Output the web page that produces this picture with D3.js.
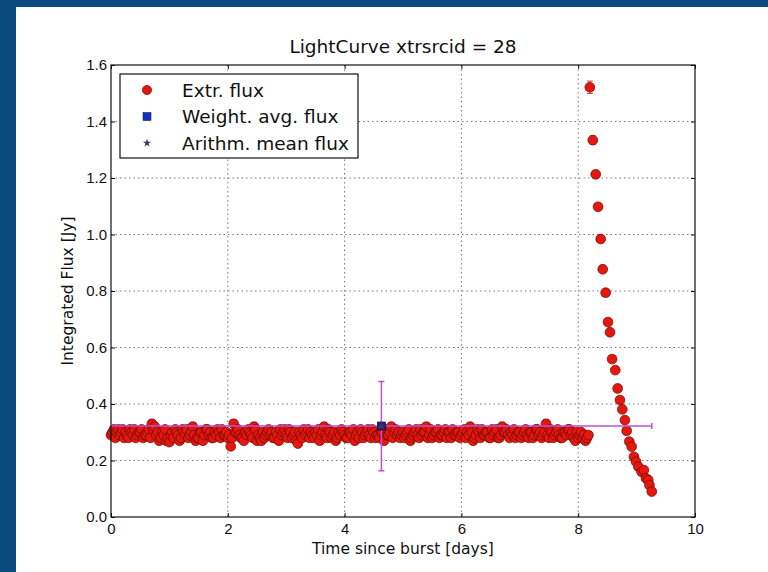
<!DOCTYPE html>
<html>
<head>
<meta charset="utf-8">
<script src="https://cdn.jsdelivr.net/npm/d3@7"></script>
<style>
  body { margin: 0; background: #fff; }
  svg { display: block; font-family: "DejaVu Sans", sans-serif; }
</style>
</head>
<body>
<div class="graph"></div>
<script>
// quiescent part of the light curve (days since burst, flux in Jy, 1-sigma error)
const days = [
  0.00, 0.05, 0.10, 0.15, 0.20, 0.25, 0.30, 0.35, 0.40, 0.45, 0.50, 0.55, 0.60, 0.65, 0.70, 0.75, 0.80, 0.85, 0.90, 0.95,
  1.00, 1.05, 1.10, 1.15, 1.20, 1.25, 1.30, 1.35, 1.40, 1.45, 1.50, 1.55, 1.60, 1.65, 1.70, 1.75, 1.80, 1.85, 1.90, 1.95,
  2.00, 2.05, 2.10, 2.15, 2.20, 2.25, 2.30, 2.35, 2.40, 2.45, 2.50, 2.55, 2.60, 2.65, 2.70, 2.75, 2.80, 2.85, 2.90, 2.95,
  3.00, 3.05, 3.10, 3.15, 3.20, 3.25, 3.30, 3.35, 3.40, 3.45, 3.50, 3.55, 3.60, 3.65, 3.70, 3.75, 3.80, 3.85, 3.90, 3.95,
  4.00, 4.05, 4.10, 4.15, 4.20, 4.25, 4.30, 4.35, 4.40, 4.45, 4.50, 4.55, 4.60, 4.65, 4.70, 4.75, 4.80, 4.85, 4.90, 4.95,
  5.00, 5.05, 5.10, 5.15, 5.20, 5.25, 5.30, 5.35, 5.40, 5.45, 5.50, 5.55, 5.60, 5.65, 5.70, 5.75, 5.80, 5.85, 5.90, 5.95,
  6.00, 6.05, 6.10, 6.15, 6.20, 6.25, 6.30, 6.35, 6.40, 6.45, 6.50, 6.55, 6.60, 6.65, 6.70, 6.75, 6.80, 6.85, 6.90, 6.95,
  7.00, 7.05, 7.10, 7.15, 7.20, 7.25, 7.30, 7.35, 7.40, 7.45, 7.50, 7.55, 7.60, 7.65, 7.70, 7.75, 7.80, 7.85, 7.90, 7.95,
  8.00, 8.05, 8.10, 8.15
];
const flux = [
  0.29, 0.31, 0.30, 0.29, 0.31, 0.30, 0.28, 0.30, 0.31, 0.29, 0.30, 0.28, 0.29, 0.31, 0.33, 0.32, 0.30, 0.28, 0.29, 0.27,
  0.265, 0.30, 0.31, 0.29, 0.28, 0.30, 0.31, 0.29, 0.32, 0.27, 0.28, 0.30, 0.29, 0.31, 0.30, 0.28, 0.29, 0.30, 0.31, 0.29,
  0.28, 0.25, 0.33, 0.30, 0.29, 0.28, 0.30, 0.31, 0.29, 0.32, 0.27, 0.28, 0.30, 0.29, 0.31, 0.30, 0.28, 0.29, 0.31, 0.30,
  0.29, 0.31, 0.28, 0.30, 0.26, 0.29, 0.31, 0.30, 0.28, 0.29, 0.30, 0.31, 0.29, 0.32, 0.28, 0.30, 0.29, 0.27, 0.30, 0.31,
  0.29, 0.28, 0.30, 0.31, 0.29, 0.28, 0.30, 0.29, 0.31, 0.28, 0.30, 0.29, 0.28, 0.30, 0.31, 0.29, 0.32, 0.30, 0.29, 0.28,
  0.30, 0.29, 0.31, 0.28, 0.30, 0.29, 0.31, 0.30, 0.32, 0.29, 0.28, 0.30, 0.31, 0.29, 0.30, 0.28, 0.30, 0.31, 0.29, 0.30,
  0.29, 0.31, 0.30, 0.32, 0.27, 0.29, 0.30, 0.31, 0.29, 0.30, 0.28, 0.29, 0.31, 0.28, 0.32, 0.30, 0.29, 0.30, 0.31, 0.29,
  0.30, 0.29, 0.31, 0.28, 0.30, 0.29, 0.31, 0.30, 0.29, 0.33, 0.28, 0.30, 0.29, 0.31, 0.28, 0.30, 0.29, 0.31, 0.30, 0.27,
  0.28, 0.30, 0.29, 0.28
];
const fluxErr = [
  0.012, 0.012, 0.011, 0.012, 0.013, 0.012, 0.011, 0.012, 0.012, 0.011, 0.012, 0.012, 0.011, 0.012, 0.015, 0.013, 0.012, 0.011, 0.012, 0.012,
  0.012, 0.011, 0.013, 0.012, 0.011, 0.012, 0.012, 0.011, 0.014, 0.012, 0.011, 0.012, 0.012, 0.013, 0.012, 0.011, 0.012, 0.011, 0.012, 0.012,
  0.011, 0.013, 0.015, 0.012, 0.011, 0.012, 0.012, 0.011, 0.012, 0.014, 0.012, 0.011, 0.012, 0.012, 0.013, 0.012, 0.011, 0.012, 0.012, 0.011,
  0.012, 0.012, 0.011, 0.012, 0.013, 0.012, 0.012, 0.011, 0.012, 0.012, 0.011, 0.012, 0.012, 0.014, 0.011, 0.012, 0.012, 0.012, 0.011, 0.012,
  0.012, 0.011, 0.012, 0.013, 0.012, 0.011, 0.012, 0.012, 0.011, 0.012, 0.012, 0.011, 0.012, 0.012, 0.013, 0.012, 0.014, 0.012, 0.011, 0.012,
  0.012, 0.011, 0.012, 0.012, 0.011, 0.012, 0.013, 0.012, 0.014, 0.012, 0.011, 0.012, 0.012, 0.011, 0.012, 0.012, 0.011, 0.013, 0.012, 0.012,
  0.011, 0.012, 0.012, 0.014, 0.012, 0.011, 0.012, 0.012, 0.011, 0.012, 0.012, 0.011, 0.013, 0.012, 0.014, 0.012, 0.011, 0.012, 0.012, 0.011,
  0.012, 0.011, 0.012, 0.012, 0.011, 0.012, 0.013, 0.012, 0.012, 0.015, 0.011, 0.012, 0.012, 0.013, 0.012, 0.011, 0.012, 0.013, 0.012, 0.012,
  0.012, 0.011, 0.012, 0.012
];

// second, interleaved set of quiescent scans
const days2 = [
  0.025, 0.075, 0.125, 0.175, 0.225, 0.275, 0.325, 0.375, 0.425, 0.475, 0.525, 0.575, 0.625, 0.675, 0.725, 0.775, 0.825, 0.875, 0.925, 0.975,
  1.025, 1.075, 1.125, 1.175, 1.225, 1.275, 1.325, 1.375, 1.425, 1.475, 1.525, 1.575, 1.625, 1.675, 1.725, 1.775, 1.825, 1.875, 1.925, 1.975,
  2.025, 2.075, 2.125, 2.175, 2.225, 2.275, 2.325, 2.375, 2.425, 2.475, 2.525, 2.575, 2.625, 2.675, 2.725, 2.775, 2.825, 2.875, 2.925, 2.975,
  3.025, 3.075, 3.125, 3.175, 3.225, 3.275, 3.325, 3.375, 3.425, 3.475, 3.525, 3.575, 3.625, 3.675, 3.725, 3.775, 3.825, 3.875, 3.925, 3.975,
  4.025, 4.075, 4.125, 4.175, 4.225, 4.275, 4.325, 4.375, 4.425, 4.475, 4.525, 4.575, 4.625, 4.675, 4.725, 4.775, 4.825, 4.875, 4.925, 4.975,
  5.025, 5.075, 5.125, 5.175, 5.225, 5.275, 5.325, 5.375, 5.425, 5.475, 5.525, 5.575, 5.625, 5.675, 5.725, 5.775, 5.825, 5.875, 5.925, 5.975,
  6.025, 6.075, 6.125, 6.175, 6.225, 6.275, 6.325, 6.375, 6.425, 6.475, 6.525, 6.575, 6.625, 6.675, 6.725, 6.775, 6.825, 6.875, 6.925, 6.975,
  7.025, 7.075, 7.125, 7.175, 7.225, 7.275, 7.325, 7.375, 7.425, 7.475, 7.525, 7.575, 7.625, 7.675, 7.725, 7.775, 7.825, 7.875, 7.925, 7.975,
  8.025, 8.075, 8.125, 8.175
];
const flux2 = [
  0.30, 0.28, 0.31, 0.30, 0.28, 0.29, 0.31, 0.29, 0.28, 0.30, 0.31, 0.29, 0.30, 0.28, 0.31, 0.29, 0.27, 0.30, 0.31, 0.28,
  0.29, 0.28, 0.30, 0.27, 0.31, 0.29, 0.28, 0.30, 0.29, 0.28, 0.30, 0.27, 0.31, 0.29, 0.28, 0.30, 0.31, 0.28, 0.29, 0.30,
  0.29, 0.28, 0.30, 0.31, 0.28, 0.27, 0.29, 0.30, 0.28, 0.31, 0.29, 0.27, 0.28, 0.30, 0.29, 0.28, 0.30, 0.27, 0.29, 0.31,
  0.28, 0.30, 0.29, 0.27, 0.30, 0.28, 0.29, 0.31, 0.30, 0.28, 0.29, 0.27, 0.30, 0.29, 0.31, 0.28, 0.30, 0.28, 0.29, 0.30,
  0.28, 0.30, 0.29, 0.27, 0.30, 0.31, 0.28, 0.30, 0.29, 0.31, 0.28, 0.29, 0.30, 0.27, 0.29, 0.30, 0.28, 0.31, 0.30, 0.29,
  0.28, 0.30, 0.27, 0.29, 0.31, 0.28, 0.29, 0.30, 0.28, 0.31, 0.29, 0.30, 0.28, 0.29, 0.31, 0.30, 0.28, 0.29, 0.30, 0.28,
  0.30, 0.28, 0.29, 0.30, 0.28, 0.31, 0.28, 0.29, 0.30, 0.28, 0.31, 0.30, 0.28, 0.29, 0.30, 0.31, 0.28, 0.29, 0.28, 0.30,
  0.28, 0.30, 0.29, 0.30, 0.28, 0.31, 0.29, 0.28, 0.30, 0.29, 0.31, 0.28, 0.30, 0.29, 0.28, 0.30, 0.31, 0.29, 0.28, 0.30,
  0.29, 0.28, 0.27, 0.29
];
const fluxErr2 = [
  0.011, 0.012, 0.012, 0.011, 0.012, 0.012, 0.013, 0.011, 0.012, 0.012, 0.011, 0.012, 0.012, 0.011, 0.012, 0.012, 0.011, 0.012, 0.013, 0.012,
  0.012, 0.011, 0.012, 0.012, 0.011, 0.012, 0.012, 0.011, 0.012, 0.013, 0.012, 0.011, 0.012, 0.012, 0.011, 0.012, 0.012, 0.011, 0.012, 0.012,
  0.012, 0.012, 0.011, 0.012, 0.012, 0.011, 0.012, 0.012, 0.011, 0.012, 0.012, 0.011, 0.012, 0.013, 0.012, 0.011, 0.012, 0.012, 0.011, 0.012,
  0.011, 0.012, 0.012, 0.011, 0.012, 0.012, 0.011, 0.012, 0.012, 0.011, 0.012, 0.012, 0.011, 0.012, 0.012, 0.013, 0.011, 0.012, 0.012, 0.011,
  0.012, 0.012, 0.011, 0.012, 0.012, 0.011, 0.012, 0.012, 0.011, 0.012, 0.012, 0.011, 0.012, 0.012, 0.011, 0.012, 0.012, 0.011, 0.012, 0.012,
  0.011, 0.012, 0.012, 0.011, 0.012, 0.013, 0.011, 0.012, 0.012, 0.011, 0.012, 0.012, 0.011, 0.012, 0.012, 0.011, 0.012, 0.012, 0.011, 0.012,
  0.012, 0.011, 0.012, 0.012, 0.011, 0.012, 0.012, 0.011, 0.012, 0.012, 0.011, 0.012, 0.012, 0.011, 0.012, 0.012, 0.011, 0.012, 0.012, 0.011,
  0.012, 0.012, 0.011, 0.012, 0.012, 0.011, 0.012, 0.012, 0.011, 0.012, 0.012, 0.011, 0.012, 0.012, 0.011, 0.012, 0.012, 0.011, 0.012, 0.012,
  0.011, 0.012, 0.012, 0.011
];

// flare after day 8.2
const flareDays = [8.20, 8.25, 8.30, 8.34, 8.385, 8.42, 8.47, 8.51, 8.545, 8.58, 8.635, 8.675, 8.715, 8.755,
  8.80, 8.83, 8.875, 8.915, 8.955, 8.99, 9.03, 9.085, 9.125, 9.16, 9.20, 9.22, 9.26];
const flareFlux = [1.521, 1.334, 1.213, 1.098, 0.984, 0.877, 0.794, 0.690, 0.654, 0.559, 0.520, 0.455, 0.414, 0.381,
  0.343, 0.305, 0.267, 0.249, 0.213, 0.196, 0.178, 0.160, 0.166, 0.137, 0.131, 0.113, 0.090];
const flareErr = [0.022, 0.015, 0.013, 0.012, 0.012, 0.012, 0.012, 0.011, 0.011, 0.011, 0.011, 0.011, 0.010, 0.010,
  0.010, 0.010, 0.010, 0.010, 0.010, 0.010, 0.010, 0.010, 0.010, 0.010, 0.010, 0.010, 0.010];

// weighted average point: [day, flux, day error, flux error]
const weightedAvg = [4.63, 0.322, 4.63, 0.158];
const arithMean = [4.63, 0.322];

const xTicks = [0, 2, 4, 6, 8, 10];
const yTicks = [0.0, 0.2, 0.4, 0.6, 0.8, 1.0, 1.2, 1.4, 1.6];
const legendLabels = ['Extr. flux', 'Weight. avg. flux', 'Arithm. mean flux'];

const w = 768;
const h = 572;
const plot = { left: 111, right: 695, top: 65, bottom: 517 };

const svg = d3.select('.graph')
  .append('svg')
  .attr('width', w)
  .attr('height', h);

// dark blue slide frame
svg.append('rect').attr('x', 0).attr('y', 0).attr('width', w).attr('height', 7).attr('fill', '#0a4a7f');
svg.append('rect').attr('x', 0).attr('y', 0).attr('width', 16).attr('height', h).attr('fill', '#0a4a7f');

const xScale = d3.scaleLinear().domain([0, 10]).range([plot.left, plot.right]);
const yScale = d3.scaleLinear().domain([0, 1.6]).range([plot.bottom, plot.top]);

// grid
const grid = svg.append('g').attr('class', 'grid')
  .attr('stroke', '#777')
  .attr('stroke-width', 1)
  .attr('stroke-dasharray', '1.5,3');
grid.selectAll('.gx')
  .data(xTicks.slice(1, -1))
  .enter()
  .append('line')
  .attr('x1', (d) => xScale(d))
  .attr('x2', (d) => xScale(d))
  .attr('y1', plot.top)
  .attr('y2', plot.bottom);
grid.selectAll('.gy')
  .data(yTicks.slice(1, -1))
  .enter()
  .append('line')
  .attr('x1', plot.left)
  .attr('x2', plot.right)
  .attr('y1', (d) => yScale(d))
  .attr('y2', (d) => yScale(d));

const quiet = days.map((d, i) => ({ t: d, f: flux[i], e: fluxErr[i] }))
  .concat(days2.map((d, i) => ({ t: d, f: flux2[i], e: fluxErr2[i] })))
  .sort((a, b) => a.t - b.t);
const points = quiet
  .concat(flareDays.map((d, i) => ({ t: d, f: flareFlux[i], e: flareErr[i] })));

// red error bars
const errG = svg.append('g').attr('stroke', '#e03a3a').attr('stroke-width', 1);
errG.selectAll('.eb')
  .data(points)
  .enter()
  .append('path')
  .attr('d', (d) => {
    const x = xScale(d.t);
    const y1 = yScale(d.f + d.e);
    const y2 = yScale(d.f - d.e);
    return `M${x - 3},${y1}H${x + 3}M${x},${y1}V${y2}M${x - 3},${y2}H${x + 3}`;
  });

svg.append('g')
  .selectAll('circle')
  .data(points)
  .enter()
  .append('circle')
  .attr('cx', (d) => xScale(d.t))
  .attr('cy', (d) => yScale(d.f))
  .attr('r', 4.9)
  .attr('fill', '#e5170e')
  .attr('stroke', '#6a0a05')
  .attr('stroke-width', 0.7);

// weighted average with error bars
const [avgT, avgF, avgTe, avgFe] = weightedAvg;
const avgG = svg.append('g').attr('stroke', '#c050d0').attr('stroke-width', 1.5).attr('fill', 'none');
avgG.append('path')
  .attr('d', `M${xScale(avgT - avgTe)},${yScale(avgF)}H${xScale(avgT + avgTe)}`
    + `M${xScale(avgT + avgTe)},${yScale(avgF) - 3}V${yScale(avgF) + 3}`
    + `M${xScale(avgT)},${yScale(avgF + avgFe)}V${yScale(avgF - avgFe)}`
    + `M${xScale(avgT) - 3},${yScale(avgF + avgFe)}H${xScale(avgT) + 3}`
    + `M${xScale(avgT) - 3},${yScale(avgF - avgFe)}H${xScale(avgT) + 3}`);
svg.append('rect')
  .attr('x', xScale(avgT) - 4)
  .attr('y', yScale(avgF) - 4)
  .attr('width', 8)
  .attr('height', 8)
  .attr('fill', '#1f1f8a')
  .attr('stroke', '#111')
  .attr('stroke-width', 0.7);
svg.append('path')
  .attr('d', d3.symbol(d3.symbolStar, 22)())
  .attr('transform', `translate(${xScale(arithMean[0])},${yScale(arithMean[1])})`)
  .attr('fill', '#4a2d6a');

// axes, ticks inward on all sides
const axisStyle = (g) => {
  g.selectAll('.domain').remove();
  g.selectAll('text').style('font-size', '15px').attr('fill', '#111');
  g.selectAll('line').attr('stroke', '#111');
};
svg.append('g')
  .attr('transform', `translate(0, ${plot.bottom})`)
  .call(d3.axisBottom(xScale).tickValues(xTicks).tickSize(-4).tickPadding(6).tickFormat((d) => d))
  .call(axisStyle);
svg.append('g')
  .attr('transform', `translate(0, ${plot.top})`)
  .call(d3.axisTop(xScale).tickValues(xTicks).tickSize(-4).tickFormat(''))
  .call(axisStyle);
svg.append('g')
  .attr('transform', `translate(${plot.left}, 0)`)
  .call(d3.axisLeft(yScale).tickValues(yTicks).tickSize(-4).tickPadding(4).tickFormat(d3.format('.1f')))
  .call(axisStyle);
svg.append('g')
  .attr('transform', `translate(${plot.right}, 0)`)
  .call(d3.axisRight(yScale).tickValues(yTicks).tickSize(-4).tickFormat(''))
  .call(axisStyle);

svg.append('rect')
  .attr('x', plot.left)
  .attr('y', plot.top)
  .attr('width', plot.right - plot.left)
  .attr('height', plot.bottom - plot.top)
  .attr('fill', 'none')
  .attr('stroke', '#111')
  .attr('stroke-width', 1.2);

// labels
svg.append('text')
  .attr('x', (plot.left + plot.right) / 2)
  .attr('y', 53)
  .attr('text-anchor', 'middle')
  .style('font-size', '18.5px')
  .attr('fill', '#111')
  .text('LightCurve xtrsrcid = 28');
svg.append('text')
  .attr('x', (plot.left + plot.right) / 2)
  .attr('y', 554)
  .attr('text-anchor', 'middle')
  .style('font-size', '15.5px')
  .attr('fill', '#111')
  .text('Time since burst [days]');
svg.append('text')
  .attr('transform', 'rotate(-90)')
  .attr('x', -(plot.top + plot.bottom) / 2)
  .attr('y', 73)
  .attr('text-anchor', 'middle')
  .style('font-size', '15.5px')
  .attr('fill', '#111')
  .text('Integrated Flux [Jy]');

// legend
const legend = svg.append('g').attr('class', 'legend');
legend.append('rect')
  .attr('x', 120)
  .attr('y', 74)
  .attr('width', 238)
  .attr('height', 84)
  .attr('fill', '#fff')
  .attr('stroke', '#111')
  .attr('stroke-width', 1.2);
const rowY = (i) => 90 + i * 26.5;
legend.append('circle').attr('cx', 147).attr('cy', rowY(0)).attr('r', 4.6)
  .attr('fill', '#e5170e').attr('stroke', '#6a0a05').attr('stroke-width', 0.7);
legend.append('rect').attr('x', 143).attr('y', rowY(1) - 4).attr('width', 8).attr('height', 8)
  .attr('fill', '#1030d0').attr('stroke', '#111').attr('stroke-width', 0.5);
legend.append('path').attr('d', d3.symbol(d3.symbolStar, 22)())
  .attr('transform', `translate(147,${rowY(2)})`).attr('fill', '#4a2d6a');
legend.selectAll('text')
  .data(legendLabels)
  .enter()
  .append('text')
  .attr('x', 182)
  .attr('y', (d, i) => rowY(i))
  .attr('dy', '0.36em')
  .style('font-size', '18.5px')
  .attr('fill', '#111')
  .text((d) => d);
</script>
</body>
</html>
